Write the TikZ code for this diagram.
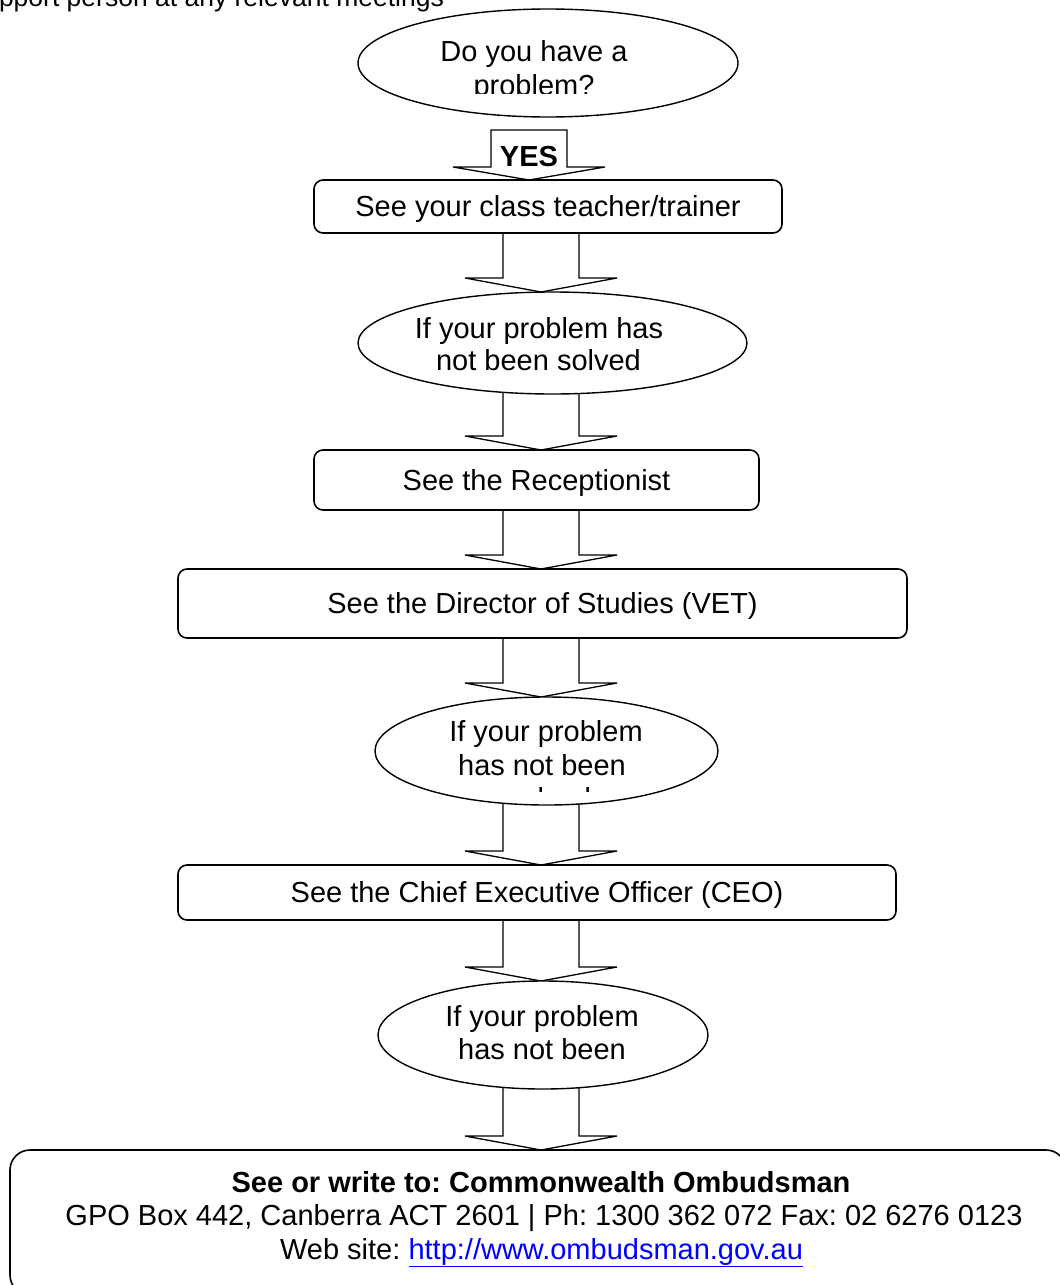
\documentclass[tikz,border=0pt]{standalone}
\usepackage{fontspec}
\setmainfont{Liberation Sans}
\usetikzlibrary{shapes.geometric,calc,backgrounds}
\definecolor{linkblue}{RGB}{0,0,255}
\frenchspacing
\newcommand\blockarrow[3]{% #1 centre x, #2 source node, #3 target node
  \draw[barrow] ($(#1-38,0 |- #2.south)+(0,-12)$) -- ($(#1-38,0 |- #3.north)+(0,-14)$)
    -- ($(#1-76,0 |- #3.north)+(0,-14)$) -- (#1,0 |- #3.north)
    -- ($(#1+76,0 |- #3.north)+(0,-14)$) -- ($(#1+38,0 |- #3.north)+(0,-14)$)
    -- ($(#1+38,0 |- #2.south)+(0,-12)$);}
\begin{document}
\begin{tikzpicture}[x=1pt,y=-1pt,
  every node/.style={font=\frenchspacing\fontsize{29}{33}\selectfont, inner sep=0pt, outer sep=0pt},
  stepbox/.style={draw, line width=1.6pt, rounded corners=9pt, fill=white, text height=20pt, text depth=0pt},
  oval/.style={draw, ellipse, line width=1.4pt, fill=white},
  barrow/.style={draw, line width=1.3pt, fill=white, line join=miter},
  txt/.style={anchor=base},
  boldtxt/.style={anchor=base, font=\frenchspacing\fontsize{29}{33}\selectfont\bfseries},
  bigbox/.style={draw, line width=1.6pt, rounded corners=20pt, fill=white, anchor=north west}
]
\useasboundingbox (0,0) rectangle (1060,1285);
\clip (0,0) rectangle (1060,1285);

% top clipped line
\node[anchor=base west, font=\frenchspacing\fontsize{26.5}{30}\selectfont] (toptext) at (-1,6.5) {pport person at any relevant meetings};

% shapes
\node[oval, minimum width=380pt, minimum height=108pt] (e1) at (548,63) {};
\node[stepbox, minimum width=468pt, minimum height=53pt] (b1) at (548,206.5) {See your class teacher/trainer};
\node[oval, minimum width=389pt, minimum height=102pt] (e2) at (552.5,343) {};
\node[stepbox, minimum width=445pt, minimum height=60pt] (b2) at (536.5,480) {See the Receptionist};
\node[stepbox, minimum width=729pt, minimum height=69pt] (b3) at (542.5,603.5) {See the Director of Studies (VET)};
\node[oval, minimum width=343pt, minimum height=108pt] (e3) at (546.5,751) {};
\node[stepbox, minimum width=718pt, minimum height=55pt] (b4) at (537,892.5) {See the Chief Executive Officer (CEO)};
\node[oval, minimum width=330pt, minimum height=108pt] (e4) at (543,1035) {};
\node[bigbox, minimum width=1056pt, minimum height=145pt] (ob) at (10,1150) {};

% ellipse texts
\begin{scope}
  \clip (300,0) rectangle (800,93.5);
  \node[txt] (e1a) at (534,61) {Do you have a};
  \node[txt] (e1b) at (534,95) {problem?};
\end{scope}
\node[txt] (e2a) at (539,338) {If your problem has};
\node[txt] (e2b) at (538.5,370) {not been solved};
\begin{scope}
  \clip (300,690) rectangle (800,791);
  \node[txt] (e3a) at (546,741) {If your problem};
  \node[txt] (e3b) at (542,775) {has not been};
  \node[txt] (e3c) at (549,808) {solved};
\end{scope}
\node[txt] (e4a) at (542,1026) {If your problem};
\node[txt] (e4b) at (542,1059) {has not been};

% ombudsman text
\node[boldtxt] (o1) at (541,1192) {See or write to: Commonwealth Ombudsman};
\node[txt] (o2) at (544,1225) {GPO Box 442, Canberra ACT 2601 | Ph: 1300 362 072 Fax: 02 6276 0123};
\node[txt] (o3) at (541.5,1259) {Web site: {\color{linkblue}\underline{http://www.ombudsman.gov.au}}};

% block arrows
\begin{pgfonlayer}{background}
  \draw[barrow] ($(491,0 |- e1.south)+(0,13)$) -- ($(491,0 |- b1.north)+(0,-13)$)
    -- ($(453,0 |- b1.north)+(0,-13)$) -- (529,0 |- b1.north)
    -- ($(605,0 |- b1.north)+(0,-13)$) -- ($(567,0 |- b1.north)+(0,-13)$)
    -- ($(567,0 |- e1.south)+(0,13)$) -- cycle;
  \blockarrow{541}{b1}{e2}
  \blockarrow{541}{e2}{b2}
  \blockarrow{541}{b2}{b3}
  \blockarrow{541}{b3}{e3}
  \blockarrow{541}{e3}{b4}
  \blockarrow{541}{b4}{e4}
  \blockarrow{541}{e4}{ob}
\end{pgfonlayer}
\node[boldtxt] (yes) at (529,166) {YES};
\end{tikzpicture}
\end{document}
